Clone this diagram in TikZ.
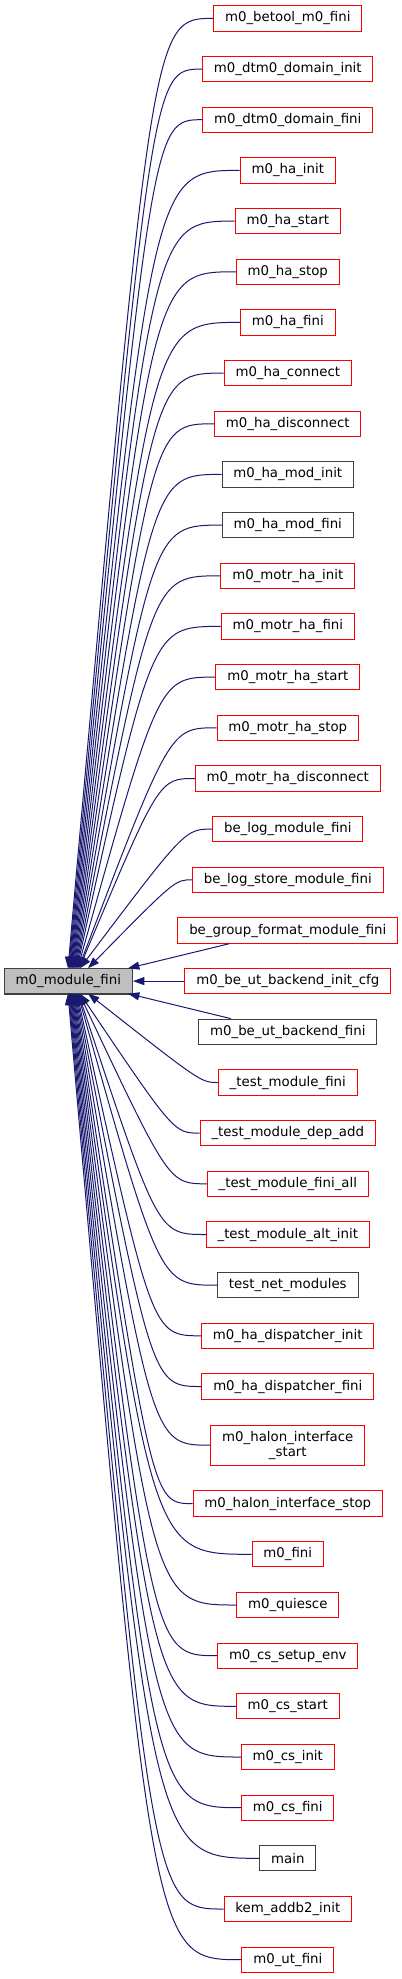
\documentclass[tikz,border=0pt]{standalone}
\usepackage{fontspec}
\setmainfont{DejaVu Sans}
\usetikzlibrary{arrows.meta}
\definecolor{edgeblue}{HTML}{191970}
\definecolor{boxgrey}{HTML}{404040}
\definecolor{rootgrey}{HTML}{BFBFBF}
\tikzset{
  fn/.style={draw=red, fill=white, line width=0.75pt, align=center,
    font=\fontsize{10}{11.25}\selectfont, inner xsep=8.5pt, inner ysep=0pt,
    minimum height=19pt},
  fnblack/.style={fn, draw=boxgrey},
  fntall/.style={fn, minimum height=30pt},
  fnroot/.style={fn, draw=boxgrey, fill=rootgrey, line width=1.1pt},
  call/.style={draw=edgeblue, line width=0.75pt, -{Triangle[length=8.5pt,width=6pt]}}
}
\begin{document}
\begin{tikzpicture}[x=0.75pt,y=-0.75pt]
  \path[use as bounding box, fill=white] (0,0) rectangle (401,1979);
  \node[fnroot] (root) at (68.3,981.1) {m0\_module\_fini};
  % callers, top to bottom
  \foreach \n/\y/\sty/\txt in {
      0/18.4/fn/m0\_betool\_m0\_fini,
      1/69.1/fn/m0\_dtm0\_domain\_init,
      2/119.7/fn/m0\_dtm0\_domain\_fini,
      3/170.4/fn/m0\_ha\_init,
      4/221.1/fn/m0\_ha\_start,
      5/271.8/fn/m0\_ha\_stop,
      6/322.4/fn/m0\_ha\_fini,
      7/373.1/fn/m0\_ha\_connect,
      8/423.8/fn/m0\_ha\_disconnect,
      9/474.4/fnblack/m0\_ha\_mod\_init,
      10/525.1/fnblack/m0\_ha\_mod\_fini,
      11/575.8/fn/m0\_motr\_ha\_init,
      12/626.4/fn/m0\_motr\_ha\_fini,
      13/677.1/fn/m0\_motr\_ha\_start,
      14/727.8/fn/m0\_motr\_ha\_stop,
      15/778.5/fn/m0\_motr\_ha\_disconnect,
      16/829.1/fn/be\_log\_module\_fini,
      17/879.8/fn/be\_log\_store\_module\_fini,
      18/930.5/fn/be\_group\_format\_module\_fini,
      19/981.1/fn/m0\_be\_ut\_backend\_init\_cfg,
      20/1031.8/fnblack/m0\_be\_ut\_backend\_fini,
      21/1082.5/fn/\_test\_module\_fini,
      22/1133.1/fn/\_test\_module\_dep\_add,
      23/1183.8/fn/\_test\_module\_fini\_all,
      24/1234.5/fn/\_test\_module\_alt\_init,
      25/1285.2/fnblack/test\_net\_modules,
      26/1335.8/fn/m0\_ha\_dispatcher\_init,
      27/1386.5/fn/m0\_ha\_dispatcher\_fini,
      28/1445.2/fntall/m0\_halon\_interface\\\_start,
      29/1503.6/fn/m0\_halon\_interface\_stop,
      30/1554.3/fn/m0\_fini,
      31/1605.0/fn/m0\_quiesce,
      32/1655.7/fn/m0\_cs\_setup\_env,
      33/1706.3/fn/m0\_cs\_start,
      34/1757.0/fn/m0\_cs\_init,
      35/1807.7/fn/m0\_cs\_fini,
      36/1858.3/fnblack/main,
      37/1909.0/fn/kem\_addb2\_init,
      38/1959.7/fn/m0\_ut\_fini}
    \node[\sty] (c\n) at (287.8,\y) {\txt};
  % calls from above
  \foreach \n/\tx/\cx in {0/68/152, 1/68.75/152, 2/69.5/152, 3/70.25/152,
      4/71/152, 5/71.75/152, 6/72.5/152, 7/73.25/152, 8/74/152, 9/74.75/152,
      10/75.5/152, 11/76.25/152, 12/77/152, 13/77.75/159, 14/78.5/170,
      15/79.25/159, 16/80/185, 17/88/175}
    \draw[call] (c\n.west) .. controls (\cx,0 |- c\n.west) and (\cx,0 |- c\n.west) .. (\tx,968.3);
  % calls from below
  \foreach \n/\tx/\cx in {21/88/201, 22/80/174, 23/79.25/169, 24/78.5/158,
      25/77.75/160, 26/77/152, 27/76.25/152, 28/75.5/152, 29/74.75/152,
      30/74/152, 31/73.25/152, 32/72.5/152, 33/71.75/152, 34/71/152,
      35/70.25/152, 36/69.5/152, 37/68.75/152, 38/68/152}
    \draw[call] (c\n.west) .. controls (\cx,0 |- c\n.west) and (\cx,0 |- c\n.west) .. (\tx,993.6);
  % the three nearest ones
  \draw[call] ([xshift=39pt]c18.south west) -- (128,968.3);
  \draw[call] (c19) -- (root);
  \draw[call] ([xshift=24.5pt]c20.north west) -- (128,993.6);
\end{tikzpicture}
\end{document}
